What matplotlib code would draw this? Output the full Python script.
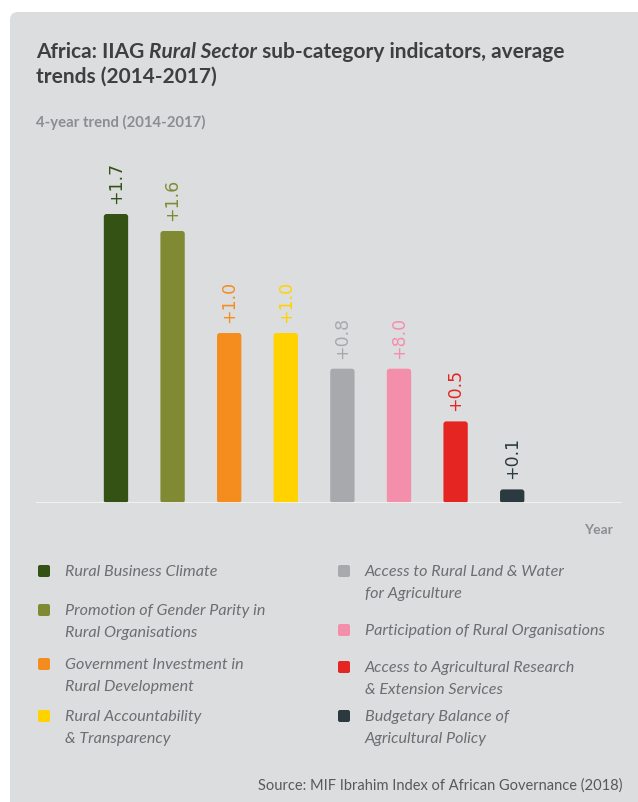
import matplotlib.pyplot as plt
from matplotlib.patches import FancyBboxPatch
from matplotlib.transforms import IdentityTransform

# data
categories = ['Rural Business Climate',
              'Promotion of Gender Parity in\nRural Organisations',
              'Government Investment in\nRural Development',
              'Rural Accountability\n& Transparency',
              'Access to Rural Land & Water\nfor Agriculture',
              'Participation of Rural Organisations',
              'Access to Agricultural Research\n& Extension Services',
              'Budgetary Balance of\nAgricultural Policy']
values = [1.7, 1.6, 1.0, 1.0, 0.79, 0.79, 0.48, 0.08]
value_labels = ['+1.7', '+1.6', '+1.0', '+1.0', '+0.8', '+8.0', '+0.5', '+0.1']
colors = ['#335214', '#808a33', '#f58d1e', '#ffd200',
          '#a7a9ac', '#f48fab', '#e42522', '#2c3a40']

W, H = 638, 803
BG = '#dcdddf'
plt.rcParams['font.family'] = ['Lato', 'DejaVu Sans']

fig = plt.figure(figsize=(W / 100, H / 100), dpi=100)
fig.patch.set_facecolor('white')


def fx(px):
    return px / W


def fy(py):
    return 1 - py / H


# grey card with rounded corners (behind the axes)
card = FancyBboxPatch((10, -10), 640, H - 13 + 10,
                      boxstyle='round,pad=0,rounding_size=8',
                      transform=IdentityTransform(), facecolor=BG,
                      edgecolor='none', zorder=-5)
fig.patches.append(card)

# title with italic part
renderer = fig.canvas.get_renderer()
x = fx(36)
for part, style in [('Africa: IIAG ', 'normal'), ('Rural Sector', 'italic'),
                    (' sub-category indicators, average', 'normal')]:
    t = fig.text(x, fy(52), part, fontsize=15, fontweight='bold',
                 fontstyle=style, color='#3f3f41', va='center', ha='left')
    bb = t.get_window_extent(renderer)
    x = x + bb.width / W
fig.text(fx(36), fy(77), 'trends (2014-2017)', fontsize=15,
         fontweight='bold', color='#3f3f41', va='center')
fig.text(fx(36), fy(122), '4-year trend (2014-2017)', fontsize=10.7,
         fontweight='bold', color='#8c8d90', va='center')

# bars
ax = fig.add_axes([fx(36), fy(504), fx(622) - fx(36), (504 - 140) / H])
ax.set_facecolor('none')
ax.set_xlim(-1.413, 8.94)
ax.set_ylim(0, 364 / 170)
pos = list(range(len(values)))
bars = ax.bar(pos, values, width=0.43, color=colors, zorder=2)
# swap the plain rectangles for slightly rounded ones
for r in bars:
    r.set_visible(False)
    rb = FancyBboxPatch((r.get_x(), r.get_y()), r.get_width(), r.get_height(),
                        boxstyle='round,pad=0,rounding_size=0.05',
                        mutation_aspect=0.33, facecolor=r.get_facecolor(),
                        edgecolor='none', zorder=2)
    ax.add_patch(rb)
for p, v, lab, c in zip(pos, values, value_labels, colors):
    ax.annotate(lab, (p, v), xytext=(0, 8), textcoords='offset points',
                rotation=90, ha='center', va='bottom', color=c,
                fontsize=12.5, family='DejaVu Sans')
ax.axhline(0, color='#f4f4f4', lw=2, zorder=3)
ax.axis('off')

fig.text(fx(613), fy(530), 'Year', fontsize=10, fontweight='bold',
         color='#8c8d90', ha='right', va='center')

# legend in two columns
leg_pos = [(38, 572), (38, 611), (38, 665), (38, 717),
           (338, 572), (338, 631), (338, 668), (338, 717)]
for (lx, ly), lab, c in zip(leg_pos, categories, colors):
    box = FancyBboxPatch((lx, H - ly - 6), 12, 12,
                         boxstyle='round,pad=0,rounding_size=2',
                         transform=IdentityTransform(), facecolor=c,
                         edgecolor='none')
    fig.patches.append(box)
    for i, line in enumerate(lab.split('\n')):
        fig.text(fx(lx + 27), fy(ly + 22 * i), line, fontsize=11.6,
                 fontstyle='italic', color='#6d6e71', va='center')

fig.text(fx(622), fy(786), 'Source: MIF Ibrahim Index of African Governance (2018)',
         fontsize=10.5, color='#58595b', ha='right', va='center')

fig.savefig('out.png', dpi=100)
